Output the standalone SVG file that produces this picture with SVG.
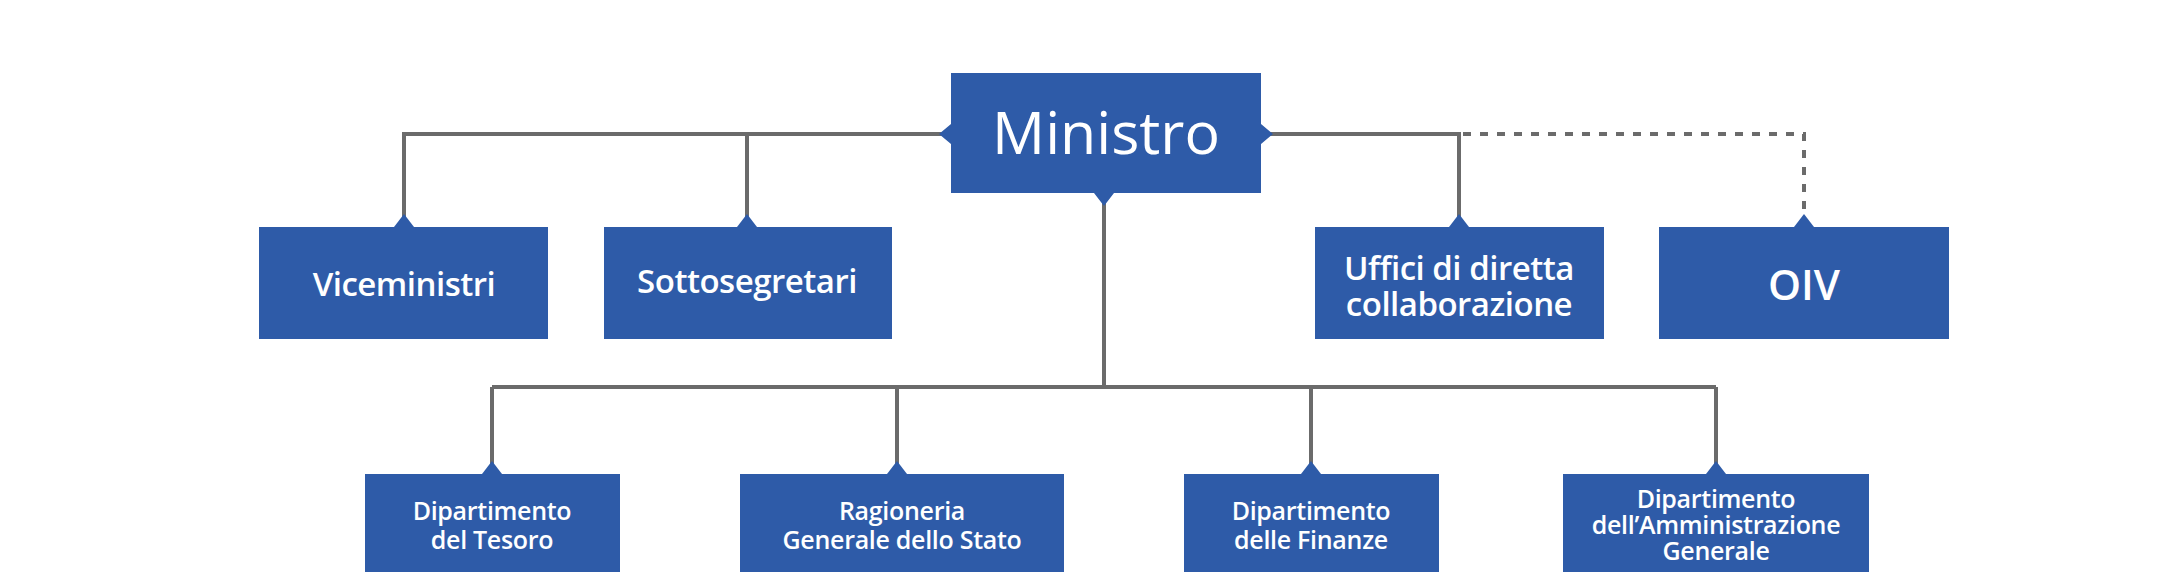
<svg xmlns="http://www.w3.org/2000/svg" width="2161" height="575" viewBox="0 0 2161 575">
<style>
.box{fill:#2e5ba8}
.ln{stroke:#6b6b6b;stroke-width:4;fill:none}
.ds{stroke:#6b6b6b;stroke-width:4;fill:none;stroke-dasharray:8 9}
.tri{fill:#2e5ba8}
text{font-family:"Open Sans","Noto Sans",sans-serif;fill:#fff;text-anchor:middle}
.m{font-size:33px;font-weight:600;letter-spacing:-0.5px}
.s{font-size:25px;font-weight:600;letter-spacing:-0.3px}
</style>
<rect width="2161" height="575" fill="#fff"/>
<g id="connectors">
<path class="ln" d="M951 134H404V227M747 134V227"/>
<path class="ln" d="M1261 134H1459V227"/>
<path class="ds" d="M1463 134H1804V227"/>
<path class="ln" d="M1104 193V387M492 387H1716M492 387V474M897 387V474M1311 387V474M1716 387V474"/>
</g>
<g id="ministro"><rect class="box" x="951" y="73" width="310" height="120"/>
<path class="tri" d="M951 124L939 134L951 144ZM1261 124L1273 134L1261 144ZM1094 193L1104 206L1114 193Z"/>
<text x="1106" y="154" style="font-size:59px">Ministro</text></g>
<g id="viceministri"><rect class="box" x="259" y="227" width="289" height="112"/><path class="tri" d="M394 227L404 214L414 227Z"/><text class="m" x="404" y="296">Viceministri</text></g>
<g id="sottosegretari"><rect class="box" x="604" y="227" width="288" height="112"/><path class="tri" d="M737 227L747 214L757 227Z"/><text class="m" x="747" y="293">Sottosegretari</text></g>
<g id="uffici"><rect class="box" x="1315" y="227" width="289" height="112"/><path class="tri" d="M1449 227L1459 214L1469 227Z"/><text class="m" x="1459" y="280">Uffici di diretta</text><text class="m" x="1459" y="316">collaborazione</text></g>
<g id="oiv"><rect class="box" x="1659" y="227" width="290" height="112"/><path class="tri" d="M1794 227L1804 214L1814 227Z"/><text x="1804" y="300" style="font-size:42px;font-weight:600">OIV</text></g>
<g id="tesoro"><rect class="box" x="365" y="474" width="255" height="98"/><path class="tri" d="M482 474L492 461L502 474Z"/><text class="s" x="492" y="520">Dipartimento</text><text class="s" x="492" y="549">del Tesoro</text></g>
<g id="ragioneria"><rect class="box" x="740" y="474" width="324" height="98"/><path class="tri" d="M887 474L897 461L907 474Z"/><text class="s" x="902" y="520">Ragioneria</text><text class="s" x="902" y="549">Generale dello Stato</text></g>
<g id="finanze"><rect class="box" x="1184" y="474" width="255" height="98"/><path class="tri" d="M1301 474L1311 461L1321 474Z"/><text class="s" x="1311" y="520">Dipartimento</text><text class="s" x="1311" y="549">delle Finanze</text></g>
<g id="amministrazione"><rect class="box" x="1563" y="474" width="306" height="98"/><path class="tri" d="M1706 474L1716 461L1726 474Z"/><text class="s" x="1716" y="508">Dipartimento</text><text class="s" x="1716" y="534">dell’Amministrazione</text><text class="s" x="1716" y="560">Generale</text></g>
</svg>
